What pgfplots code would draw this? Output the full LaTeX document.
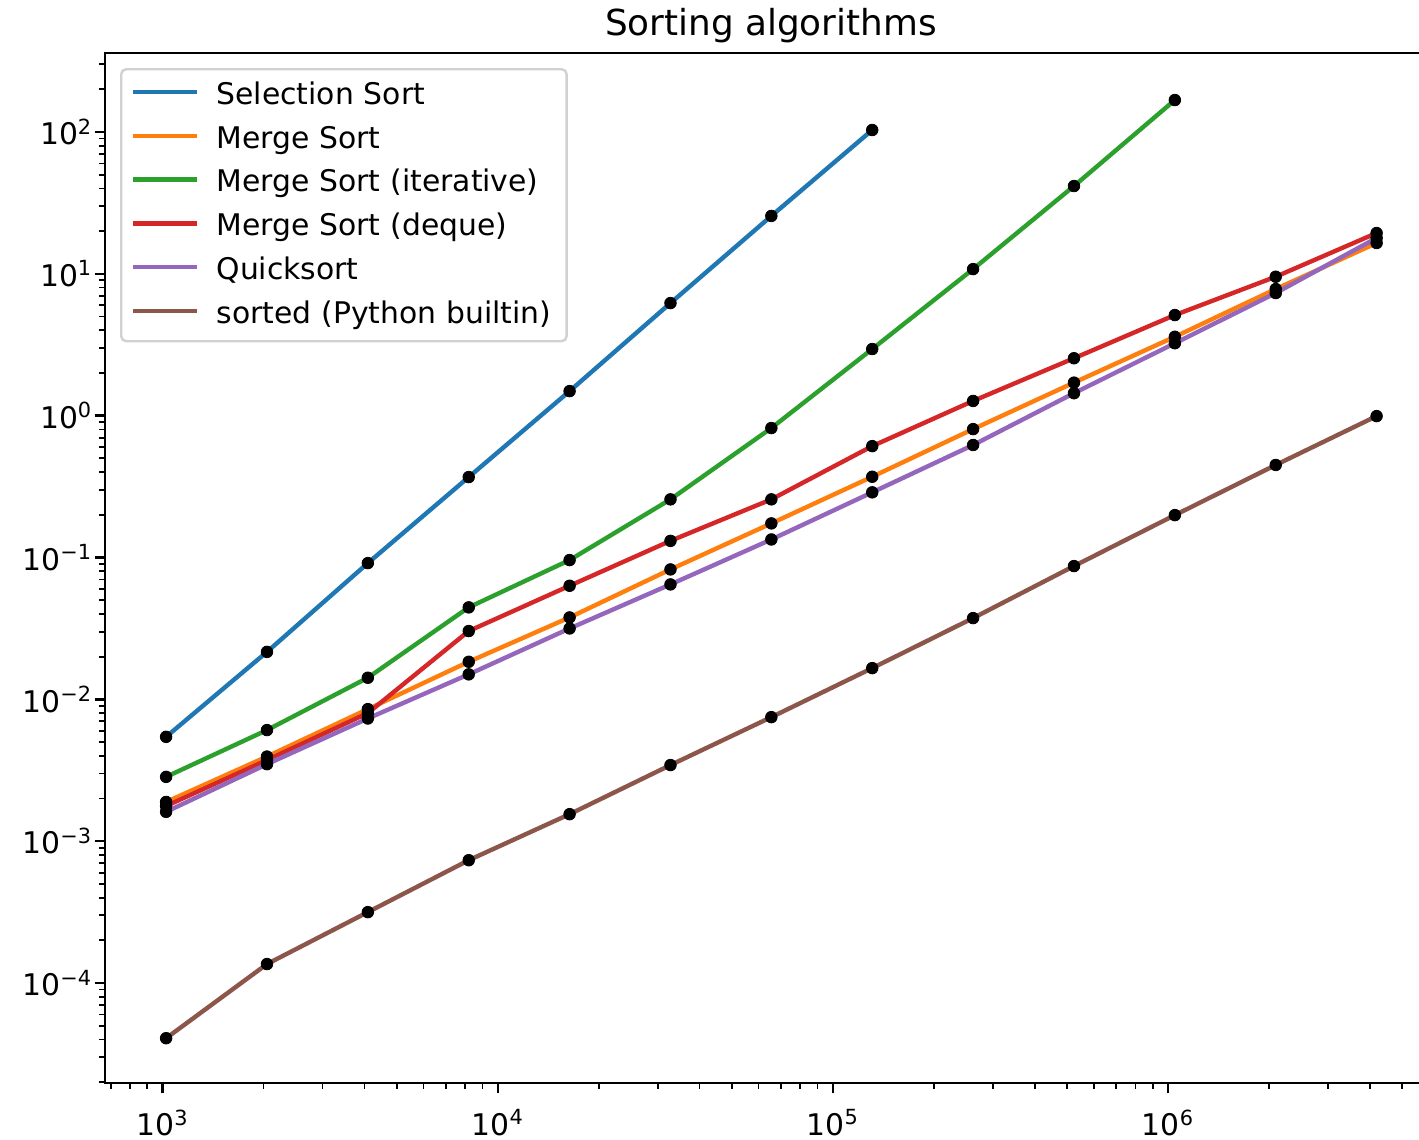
\documentclass[border=0pt]{standalone}
\usepackage{fontspec}
\setmainfont{DejaVu Sans}
\usepackage{pgfplots}
\pgfplotsset{compat=1.18}
\usepackage{pgfplotstable}

\definecolor{tabblue}{HTML}{1F77B4}
\definecolor{taborange}{HTML}{FF7F0E}
\definecolor{tabgreen}{HTML}{2CA02C}
\definecolor{tabred}{HTML}{D62728}
\definecolor{tabpurple}{HTML}{9467BD}
\definecolor{tabbrown}{HTML}{8C564B}

\pgfplotstableread{
n t
1024 0.00544
2048 0.0216
4096 0.0913
8192 0.369
16384 1.49
32768 6.22
65536 25.6
131072 103.3
}\selection

\pgfplotstableread{
n t
1024 0.00189
2048 0.00395
4096 0.00853
8192 0.0184
16384 0.0378
32768 0.0824
65536 0.174
131072 0.371
262144 0.804
524288 1.71
1048576 3.60
2097152 7.81
4194304 16.5
}\merge

\pgfplotstableread{
n t
1024 0.00284
2048 0.00607
4096 0.0142
8192 0.0445
16384 0.0959
32768 0.257
65536 0.818
131072 2.95
262144 10.8
524288 41.6
1048576 168
}\iterative

\pgfplotstableread{
n t
1024 0.00177
2048 0.00373
4096 0.0080
8192 0.0303
16384 0.0632
32768 0.131
65536 0.257
131072 0.610
262144 1.27
524288 2.54
1048576 5.12
2097152 9.54
4194304 19.4
}\deque

\pgfplotstableread{
n t
1024 0.00161
2048 0.00349
4096 0.00733
8192 0.0150
16384 0.0316
32768 0.0646
65536 0.134
131072 0.288
262144 0.621
524288 1.44
1048576 3.24
2097152 7.32
4194304 17.9
}\quick

\pgfplotstableread{
n t
1024 4.08e-5
2048 1.36e-4
4096 3.16e-4
8192 7.34e-4
16384 1.55e-3
32768 3.44e-3
65536 7.49e-3
131072 0.0166
262144 0.0374
524288 0.0870
1048576 0.199
2097152 0.449
4194304 0.993
}\builtin

\begin{document}
\begin{tikzpicture}
\begin{axis}[
  name=ax,
  scale only axis,
  width=666pt, height=515pt,
  xmode=log, ymode=log,
  xmin=673, xmax=6.353e6,
  ymin=1.972e-5, ymax=360.6,
  axis line style={line width=1.2pt, black},
  tick align=outside, tick pos=left,
  major tick length=5.2pt, minor tick length=3pt,
  major tick style={line width=1.2pt, black},
  minor tick style={line width=0.9pt, black},
  xtick={1e3,1e4,1e5,1e6},
  xticklabels={10\textsuperscript{3},10\textsuperscript{4},10\textsuperscript{5},10\textsuperscript{6}},
  minor xtick={700,800,900,2000,3000,4000,5000,6000,7000,8000,9000,20000,30000,40000,50000,60000,70000,80000,90000,200000,300000,400000,500000,600000,700000,800000,900000,2000000,3000000,4000000,5000000,6000000},
  ytick={1e-4,1e-3,1e-2,1e-1,1,10,100},
  yticklabels={10\textsuperscript{−4},10\textsuperscript{−3},10\textsuperscript{−2},10\textsuperscript{−1},10\textsuperscript{0},10\textsuperscript{1},10\textsuperscript{2}},
  minor ytick={2e-5,3e-5,4e-5,5e-5,6e-5,7e-5,8e-5,9e-5,2e-4,3e-4,4e-4,5e-4,6e-4,7e-4,8e-4,9e-4,2e-3,3e-3,4e-3,5e-3,6e-3,7e-3,8e-3,9e-3,2e-2,3e-2,4e-2,5e-2,6e-2,7e-2,8e-2,9e-2,0.2,0.3,0.4,0.5,0.6,0.7,0.8,0.9,2,3,4,5,6,7,8,9,20,30,40,50,60,70,80,90,200,300},
  tick label style={font=\fontsize{14.9pt}{17pt}\selectfont, inner sep=0pt},
  xticklabel style={yshift=-8pt},
  yticklabel style={xshift=-1pt},
  title={Sorting algorithms},
  title style={at={(0.5,1)}, anchor=base, yshift=3pt, inner sep=0pt, font=\fontsize{17.9pt}{21pt}\selectfont},
  legend cell align=left,
  legend style={
    at={(0,1)}, anchor=north west, xshift=7.5pt, yshift=-7.5pt,
    draw=black!18, line width=1.2pt, rounded corners=2.5pt,
    fill=white, fill opacity=0.8, text opacity=1,
    inner xsep=5pt, inner ysep=3pt,
    row sep=1.4pt, column sep=8.5pt,
    font=\fontsize{14.9pt}{17pt}\selectfont,
    nodes={inner sep=0pt, text height=14.5pt, text depth=6pt, text width=170pt, align=left},
  },
  legend image code/.code={\draw[#1] (0pt,1.9pt) -- (32pt,1.9pt);},
]
\addplot[tabblue, line width=2.2pt, line join=round] table[x=n,y=t] {\selection};
\addlegendentry{Selection Sort}
\addplot[taborange, line width=2.2pt, line join=round] table[x=n,y=t] {\merge};
\addlegendentry{Merge Sort}
\addplot[tabgreen, line width=2.2pt, line join=round] table[x=n,y=t] {\iterative};
\addlegendentry{Merge Sort (iterative)}
\addplot[tabred, line width=2.2pt, line join=round] table[x=n,y=t] {\deque};
\addlegendentry{Merge Sort (deque)}
\addplot[tabpurple, line width=2.2pt, line join=round] table[x=n,y=t] {\quick};
\addlegendentry{Quicksort}
\addplot[tabbrown, line width=2.2pt, line join=round] table[x=n,y=t] {\builtin};
\addlegendentry{sorted (Python builtin)}

\addplot[only marks, mark=*, mark size=2.9pt, mark options={draw=black, fill=black}, forget plot] table[x=n,y=t] {\selection};
\addplot[only marks, mark=*, mark size=2.9pt, mark options={draw=black, fill=black}, forget plot] table[x=n,y=t] {\merge};
\addplot[only marks, mark=*, mark size=2.9pt, mark options={draw=black, fill=black}, forget plot] table[x=n,y=t] {\iterative};
\addplot[only marks, mark=*, mark size=2.9pt, mark options={draw=black, fill=black}, forget plot] table[x=n,y=t] {\deque};
\addplot[only marks, mark=*, mark size=2.9pt, mark options={draw=black, fill=black}, forget plot] table[x=n,y=t] {\quick};
\addplot[only marks, mark=*, mark size=2.9pt, mark options={draw=black, fill=black}, forget plot] table[x=n,y=t] {\builtin};
\end{axis}
\pgfresetboundingbox
\path ([xshift=-52.5pt,yshift=-28.5pt]ax.south west) rectangle ([xshift=657pt,yshift=26.5pt]ax.north west);
\end{tikzpicture}
\end{document}
